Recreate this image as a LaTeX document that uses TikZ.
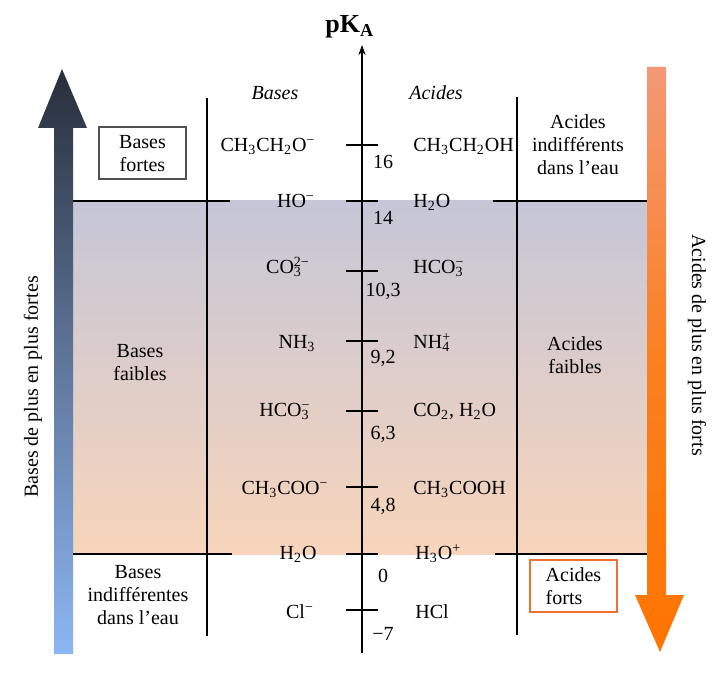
\documentclass[tikz,border=0pt]{standalone}
\usepackage{fontspec}
\setmainfont{Liberation Serif}
\usetikzlibrary{arrows.meta}

\definecolor{bandtop}{RGB}{197,198,215}
\definecolor{bandbot}{RGB}{248,213,187}
\definecolor{basetop}{RGB}{40,46,58}
\definecolor{basemid}{RGB}{95,118,155}
\definecolor{basebot}{RGB}{140,182,242}
\definecolor{acidtop}{RGB}{244,152,118}
\definecolor{acidmid}{RGB}{250,128,32}
\definecolor{acidbot}{RGB}{255,116,0}
\definecolor{boxgray}{RGB}{80,80,80}
\definecolor{boxorange}{RGB}{240,112,50}

\newcommand{\chsb}[1]{\textsubscript{#1}}
\newcommand{\chsp}[1]{\textsuperscript{#1}}
\newcommand{\chion}[2]{\rlap{\textsubscript{#1}}\textsuperscript{#2}}

\tikzset{
  txt/.style={inner sep=0pt, align=center, font=\fontsize{10}{11.5}\selectfont},
  head/.style={txt, font=\fontsize{10}{12}\selectfont\itshape},
  base/.style={txt, anchor=mid},
  acid/.style={txt, anchor=mid west},
  pkval/.style={txt, anchor=base},
  rule/.style={line width=0.6pt},
  tickline/.style={line width=0.8pt},
  framed/.style={txt, line width=1pt, minimum width=43.5pt, minimum height=26pt}
}

\begin{document}
\begin{tikzpicture}[x=0.5pt, y=-0.5pt]
  \useasboundingbox (0,0) rectangle (723,679);

  % Shaded band of weak pairs
  \shade[top color=bandtop, bottom color=bandbot] (73,201) rectangle (647,554);

  % Side arrows
  \shade[top color=basetop, bottom color=basebot, middle color=basemid]
    (54,654) -- (54,128) -- (38,128) -- (62,69) -- (87,128) -- (73,128)
    -- (73,654) -- cycle;
  \shade[top color=acidtop, bottom color=acidbot, middle color=acidmid]
    (647,67) -- (647,595) -- (635,595) -- (660,652) -- (684,595) -- (666,595)
    -- (666,67) -- cycle;
  \node[txt, rotate=90]  (bplus) at (33,387) {Bases de plus en plus fortes}; %
  \node[txt, rotate=-90] (aplus) at (697,345) {Acides de plus en plus forts}; %

  % Table rules
  \draw[rule] (207,98) -- (207,636);
  \draw[rule] (517,97) -- (517,635);
  \draw[rule] (73,201) -- (230,201);
  \draw[rule] (493,201) -- (647,201);
  \draw[rule] (73,554) -- (232,554);
  \draw[rule] (495,554) -- (647,554);

  % pKA axis
  \node[anchor=base west, inner sep=0pt, font=\fontsize{13}{15}\selectfont\bfseries]
    (pka) at (325,33) {pK\textsubscript{A}}; %
  \coordinate (axbot) at (362,653);
  \coordinate (axtop) at (362,45);
  \draw[rule, -{Stealth[length=5pt, width=3.6pt]}] (axbot) -- (axtop);

  \foreach \ty/\tl/\ly [count=\i] in {145/16/162, 201/14/218, 271/{10,3}/290,
      341/{9,2}/357, 411/{6,3}/432, 487/{4,8}/504, 554/0/575, 610/{−7}/633} {
    \coordinate (tk\i) at (362,\ty);
    \draw[tickline] ([xshift=-8pt]tk\i) -- ([xshift=8pt]tk\i);
    \node[pkval] (pk\i) at (383,\ly+7) {\tl};
  }

  % Column headers
  \node[head] (bhead) at (275,93) {Bases}; %
  \node[head] (ahead) at (436,93) {Acides}; %

  % Bases
  \node[base] (b1) at (268,147) {CH\chsb{3}CH\chsb{2}O\chsp{−}}; %
  \node[base] (b2) at (296,203) {HO\chsp{−}}; %
  \node[base] (b3) at (288,269) {CO\chion{3}{2−}}; %
  \node[base] (b4) at (297,344) {NH\chsb{3}}; %
  \node[base] (b5) at (285,412) {HCO\chion{3}{−}}; %
  \node[base] (b6) at (285,490) {CH\chsb{3}COO\chsp{−}}; %
  \node[base] (b7) at (298,555) {H\chsb{2}O}; %
  \node[base] (b8) at (300,614) {Cl\chsp{−}}; %

  % Acides
  \node[acid] (a1) at (413,147) {CH\chsb{3}CH\chsb{2}OH}; %
  \node[acid] (a2) at (413,203) {H\chsb{2}O}; %
  \node[acid] (a3) at (413,269) {HCO\chion{3}{−}}; %
  \node[acid] (a4) at (413,344) {NH\chion{4}{+}}; %
  \node[acid] (a5) at (413,412) {CO\chsb{2}, H\chsb{2}O}; %
  \node[acid] (a6) at (413,490) {CH\chsb{3}COOH}; %
  \node[acid] (a7) at (415,555) {H\chsb{3}O\chsp{+}}; %
  \node[acid] (a8) at (415,614) {HCl}; %

  % Strength groups
  \node[framed, draw=boxgray] (bfortes) at (142.5,153.5) {Bases\\fortes}; %
  \node[txt] (bfaibles) at (140,363) {Bases\\faibles}; %
  \node[txt] (bindiff)  at (138,595) {Bases\\indifférentes\\dans l’eau}; %
  \node[txt] (aindiff)  at (578,145) {Acides\\indifférents\\dans l’eau}; %
  \node[txt] (afaibles) at (575,355) {Acides\\faibles}; %
  \node[framed, draw=boxorange, align=left] (aforts) at (573.5,586) {Acides\\forts}; %

\end{tikzpicture}
\end{document}
